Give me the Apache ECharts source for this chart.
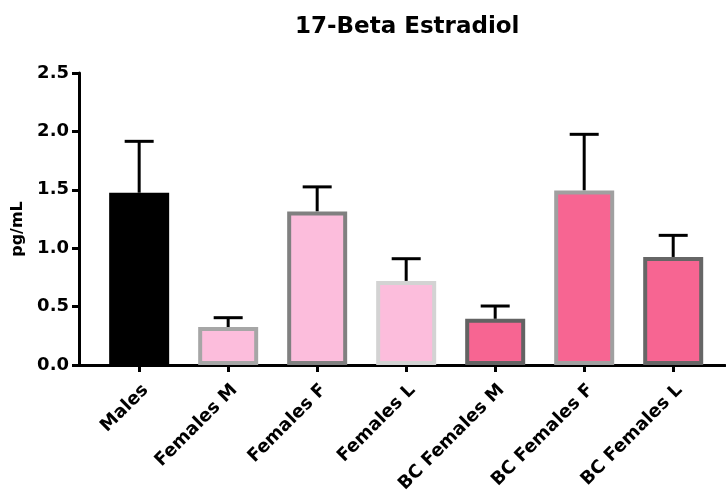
<!DOCTYPE html>
<html>
<head>
<meta charset="utf-8">
<script src="https://cdn.jsdelivr.net/npm/echarts@6/dist/echarts.min.js"></script>
<style>
  html, body { margin: 0; padding: 0; background: #fff; }
  #chart { width: 726px; height: 502px; }
</style>
</head>
<body>
<div id="chart"></div>
<script>
// Group names along the x axis
const categories = ['Males', 'Females M', 'Females F', 'Females L', 'BC Females M', 'BC Females F', 'BC Females L'];
// Mean concentration per group (pg/mL)
const means = [1.475, 0.325, 1.315, 0.72, 0.395, 1.495, 0.925];
// Upper error (SEM) per group
const errors = [0.44, 0.08, 0.21, 0.19, 0.11, 0.48, 0.185];
// Y axis tick values
const yTicks = [0, 0.5, 1.0, 1.5, 2.0, 2.5];

const fills = ['#000000', '#fcbddc', '#fcbddc', '#fcbddc', '#f76592', '#f76592', '#f76592'];
const borders = ['#000000', '#a6a6a6', '#808080', '#d3d3d3', '#636363', '#a0a0a0', '#666666'];

const FONT = 'DejaVu Sans';
const positions = categories.map((_, i) => i);

const chart = echarts.init(document.getElementById('chart'), null, { renderer: 'canvas' });

chart.setOption({
  backgroundColor: '#ffffff',
  animation: false,
  title: {
    text: '17-Beta Estradiol',
    left: 295,
    top: 16,
    padding: 0,
    textStyle: { fontFamily: FONT, fontWeight: 'bold', fontSize: 23, color: '#000' }
  },
  grid: { left: 79, right: 1, top: 73, bottom: 137, containLabel: false },
  xAxis: {
    type: 'value',
    min: -0.676,
    max: 6.582,
    splitLine: { show: false },
    axisLine: { show: true, onZero: false, lineStyle: { color: '#000', width: 3 } },
    axisTick: { show: true, customValues: positions, length: 7, lineStyle: { color: '#000', width: 3 } },
    axisLabel: {
      customValues: positions,
      rotate: 45,
      margin: 16,
      verticalAlign: 'top',
      formatter: v => categories[Math.round(v)],
      fontFamily: FONT, fontWeight: 'bold', fontSize: 18, color: '#000'
    }
  },
  yAxis: {
    type: 'value',
    min: yTicks[0],
    max: yTicks[yTicks.length - 1],
    interval: 0.5,
    name: 'pg/mL',
    nameLocation: 'middle',
    nameGap: 43,
    nameRotate: 90,
    nameTextStyle: { fontFamily: FONT, fontWeight: 'bold', fontSize: 16, color: '#000', padding: [0, 20, 0, 0] },
    splitLine: { show: false },
    axisLine: { show: true, onZero: false, lineStyle: { color: '#000', width: 3 } },
    axisTick: { show: true, length: 7, lineStyle: { color: '#000', width: 3 } },
    axisLabel: {
      margin: 10,
      formatter: v => v.toFixed(1),
      fontFamily: FONT, fontWeight: 'bold', fontSize: 18, color: '#000'
    }
  },
  series: [
    {
      type: 'custom',
      z: 1,
      data: means.map((m, i) => [i, m, m + errors[i]]),
      renderItem: (params, api) => {
        const x = api.value(0);
        const base = api.coord([x, api.value(1)]);
        const top = api.coord([x, api.value(2)]);
        const half = 14.5;
        const style = { stroke: '#000', lineWidth: 3 };
        return {
          type: 'group',
          children: [
            { type: 'line', shape: { x1: base[0], y1: base[1], x2: top[0], y2: top[1] }, style },
            { type: 'line', shape: { x1: top[0] - half, y1: top[1], x2: top[0] + half, y2: top[1] }, style }
          ]
        };
      }
    },
    {
      type: 'bar',
      z: 2,
      barWidth: 60,
      data: means.map((m, i) => ({
        value: [i, m],
        itemStyle: { color: fills[i], borderColor: borders[i], borderWidth: 4 }
      }))
    }
  ]
});
</script>
</body>
</html>
